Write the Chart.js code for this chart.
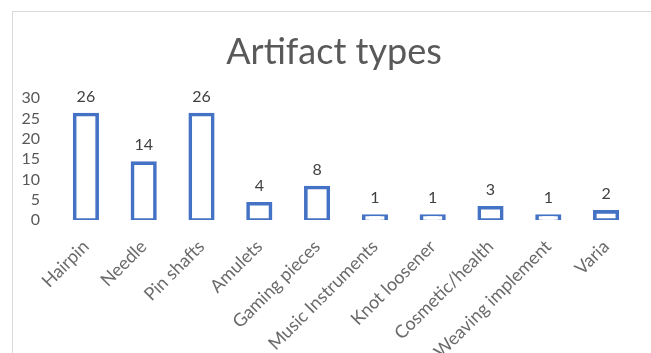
<!DOCTYPE html>
<html>
<head>
<meta charset="utf-8">
<script src="https://cdn.jsdelivr.net/npm/chart.js@4"></script>
<style>
  html, body { margin: 0; padding: 0; background: #fff; overflow: hidden; }
  #wrap { position: relative; width: 651px; height: 353px; }
  #frame { position: absolute; left: 12px; top: 11px; width: 700px; height: 400px;
           border-left: 1px solid #d9d9d9; border-top: 1px solid #d9d9d9; }
  canvas { position: absolute; left: 0; top: 0; }
</style>
</head>
<body>
<div id="wrap">
  <div id="frame"></div>
  <canvas id="c" width="651" height="353"></canvas>
</div>
<script>
const categories = ["Hairpin", "Needle", "Pin shafts", "Amulets", "Gaming pieces", "Music Instruments", "Knot loosener", "Cosmetic/health", "Weaving implement", "Varia"];
const counts = [26, 14, 26, 4, 8, 1, 1, 3, 1, 2];
const yTicks = [0, 5, 10, 15, 20, 25, 30];
const titleText = "Artifact types";

const FONT = "Lato, 'Open Sans', sans-serif";

// width of the widest y tick label, so right-aligned labels can sit left of the plot
const mctx = document.createElement('canvas').getContext('2d');
mctx.font = '16px ' + FONT;
const widestY = Math.max(...yTicks.map(v => mctx.measureText(String(v)).width));

const dataLabels = {
  id: 'dataLabels',
  afterDatasetsDraw(chart) {
    const ctx = chart.ctx;
    const meta = chart.getDatasetMeta(0);
    ctx.save();
    ctx.fillStyle = '#404040';
    ctx.font = '16px ' + FONT;
    ctx.textAlign = 'center';
    ctx.textBaseline = 'bottom';
    meta.data.forEach((bar, i) => {
      ctx.fillText(String(counts[i]), bar.x, bar.y - 10);
    });
    ctx.restore();
  }
};

new Chart(document.getElementById('c'), {
  type: 'bar',
  data: {
    labels: categories,
    datasets: [{
      data: counts,
      backgroundColor: '#ffffff',
      borderColor: '#4472C4',
      borderWidth: 3.6,
      inflateAmount: 1.8,
      borderSkipped: false,
      barPercentage: 0.39,
      categoryPercentage: 1.0
    }]
  },
  options: {
    responsive: false,
    animation: false,
    devicePixelRatio: 1,
    layout: { padding: { left: 33, right: 16, top: 0, bottom: 0 } },
    plugins: {
      legend: { display: false },
      tooltip: { enabled: false },
      title: {
        display: true,
        text: titleText,
        color: '#595959',
        font: { family: FONT, size: 36, weight: 'normal', lineHeight: 1.2 },
        padding: { top: 31, bottom: 24 }
      }
    },
    scales: {
      x: {
        grid: { display: false, drawTicks: false },
        border: { display: false },
        ticks: {
          color: '#6a6a6a',
          font: { family: FONT, size: 18 },
          maxRotation: 45, minRotation: 45,
          autoSkip: false,
          padding: 16
        },
        afterFit(scale) { scale.height = 133; }
      },
      y: {
        min: 0, max: 30,
        grid: { display: false, drawTicks: false },
        border: { display: false },
        afterBuildTicks(scale) { scale.ticks = yTicks.map(v => ({ value: v })); },
        ticks: {
          color: '#595959',
          font: { family: FONT, size: 16 },
          mirror: true,
          crossAlign: 'far',
          padding: -17 - widestY,
          autoSkip: false
        },
        afterFit(scale) { scale.width = 24; }
      }
    }
  },
  plugins: [dataLabels]
});
</script>
</body>
</html>
